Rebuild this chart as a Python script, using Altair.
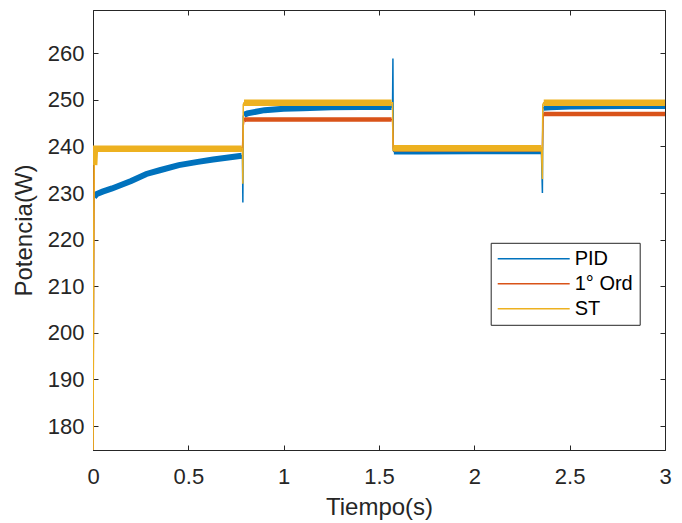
import altair as alt
import pandas as pd

# ---------------- data ----------------
series = ["PID", "1° Ord", "ST"]
colors = ["#0072BD", "#D95319", "#EDB120"]

pid_t = [0, 0.003, 0.006, 0.02, 0.05, 0.1, 0.15, 0.2, 0.28, 0.35, 0.45, 0.55, 0.63, 0.7,
         0.78, 0.784, 0.786, 0.788, 0.792, 0.81, 0.9, 1.0, 1.1, 1.25, 1.4, 1.566,
         1.571, 1.573, 1.575, 1.578, 1.7, 2.0, 2.2, 2.352, 2.357, 2.359, 2.364, 2.4,
         2.5, 2.8, 3.0]
pid_w = [170, 226, 229.2, 229.8, 230.3, 231.0, 231.8, 232.6, 234.1, 234.9, 236.0, 236.7, 237.2, 237.6,
         238.0, 238.0, 228.0, 246.5, 246.8, 247.1, 247.8, 248.1, 248.2, 248.4, 248.5, 248.5,
         248.5, 258.9, 239.2, 238.9, 238.9, 239.0, 239.0, 239.0, 230.0, 248.3, 248.3, 248.4,
         248.6, 248.7, 248.7]

ord_t = [0, 0.003, 0.006, 0.01, 0.03, 0.78, 0.784, 0.788, 0.792, 0.8, 1.566, 1.571,
         1.575, 1.578, 2.352, 2.357, 2.36, 2.364, 3.0]
ord_w = [170, 212, 237, 239.2, 239.4, 239.4, 239.4, 244.5, 245.6, 245.8, 245.8, 245.8,
         239.6, 239.4, 239.4, 239.4, 246.0, 247.0, 247.0]

st_t = [0, 0.003, 0.006, 0.01, 0.78, 0.784, 0.786, 0.788, 0.792, 1.566, 1.571, 1.574, 1.578,
        2.352, 2.357, 2.359, 2.364, 3.0]
st_w = [170, 215, 236, 239.5, 239.5, 239.5, 232.0, 249.0, 249.4, 249.4, 249.4, 239.0, 239.6,
        239.6, 233.0, 249.0, 249.4, 249.4]

x_ticks = [0, 0.5, 1, 1.5, 2, 2.5, 3]
y_ticks = [180, 190, 200, 210, 220, 230, 240, 250, 260]
x_range = [0, 3]
y_range = [174.85, 269.3]
period = 0.786  # switching instants of the reference

rows = []
for name, ts, ws in zip(series, [pid_t, ord_t, st_t], [pid_w, ord_w, st_w]):
    for i, (t, w) in enumerate(zip(ts, ws)):
        rows.append({"t": t, "w": w, "serie": name, "i": i})
df = pd.DataFrame(rows)

# ---------------- styling ----------------
W, H = 572, 440
FONT = "Liberation Sans"
INK = "#262626"
thick = {"PID": 6, "1° Ord": 4.5, "ST": 6.5}

xs = alt.Scale(domain=x_range, nice=False, zero=False)
ys = alt.Scale(domain=y_range, nice=False, zero=False)

legend = alt.Legend(
    title=None, orient="none", legendX=397.7, legendY=232.8,
    symbolType="stroke", symbolSize=5184, symbolStrokeWidth=1.5,
    clipHeight=20, rowPadding=5, padding=6, labelOffset=4,
    labelFontSize=20, labelFont=FONT, labelColor="black",
    strokeColor=INK, fillColor="white", cornerRadius=0,
)
color = alt.Color("serie:N", scale=alt.Scale(domain=series, range=colors), legend=legend)

x_main = alt.Axis(
    values=x_ticks, labelExpr="format(datum.value, '~g')", title="Tiempo(s)",
    ticks=False, labelPadding=16, titlePadding=8, labelFontSize=22, titleFontSize=24,
    grid=False, domainColor=INK, labelColor=INK, titleColor=INK, labelFont=FONT,
    titleFont=FONT, titleFontWeight="normal", labelFlush=False, labelOverlap=False,
)
y_main = alt.Axis(
    values=y_ticks, title="Potencia(W)", ticks=False, labelPadding=9, titlePadding=11,
    labelFontSize=22, titleFontSize=24, grid=False, domainColor=INK, labelColor=INK,
    titleColor=INK, labelFont=FONT, titleFont=FONT, titleFontWeight="normal",
    labelOverlap=False,
)


def tick_axis(orient, offset, vals):
    return alt.Axis(orient=orient, offset=offset, values=vals, labels=False, domain=False,
                    ticks=True, tickSize=5, tickColor=INK, grid=False, title=None)


base = alt.Chart(df)
layers = []
first = True
for name in series:
    sub = base.transform_filter(alt.datum.serie == name)
    thin = sub.mark_line(clip=True, strokeWidth=1.5).encode(
        x=alt.X("t:Q", scale=xs, axis=x_main if first else None),
        y=alt.Y("w:Q", scale=ys, axis=y_main if first else None),
        color=color, order="i:Q",
    )
    first = False
    band = sub.transform_calculate(
        seg=f"floor(datum.t / {period})",
        dist=f"abs(datum.t - round(datum.t / {period}) * {period})",
    ).transform_filter("datum.dist > 0.005").mark_line(
        clip=True, strokeWidth=thick[name]
    ).encode(
        x=alt.X("t:Q", scale=xs, axis=None),
        y=alt.Y("w:Q", scale=ys, axis=None),
        color=color, detail="seg:O", order="i:Q",
    )
    layers += [thin, band]

ticks_a = base.mark_point(opacity=0).encode(
    x=alt.X("t:Q", scale=xs, axis=tick_axis("top", -H, x_ticks)),
    y=alt.Y("w:Q", scale=ys, axis=tick_axis("right", -W, y_ticks)),
)
ticks_b = base.mark_point(opacity=0).encode(
    x=alt.X("t:Q", scale=xs, axis=tick_axis("bottom", -H, x_ticks)),
    y=alt.Y("w:Q", scale=ys, axis=tick_axis("left", -W, y_ticks)),
)
layers += [ticks_a, ticks_b]

chart = alt.layer(*layers).resolve_axis(x="independent", y="independent").properties(
    width=W, height=H,
    autosize=alt.AutoSizeParams(type="none"),
    padding={"left": 85, "top": 2, "right": 9, "bottom": 72},
    background="white",
).configure_view(stroke=INK, strokeWidth=1)

chart.save("out.html", embed_options={"renderer": "svg", "actions": False})
